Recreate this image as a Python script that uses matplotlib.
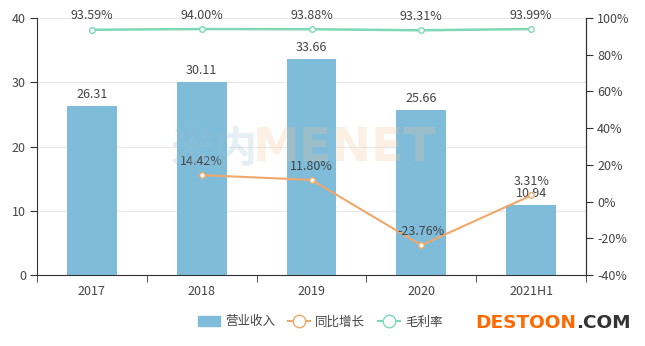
import matplotlib
matplotlib.use("Agg")
import matplotlib.pyplot as plt
from matplotlib.lines import Line2D
import numpy as np

plt.rcParams["font.family"] = ["Noto Sans CJK SC", "DejaVu Sans"]

categories = ["2017", "2018", "2019", "2020", "2021H1"]
revenue = [26.31, 30.11, 33.66, 25.66, 10.94]
growth = [None, 14.42, 11.80, -23.76, 3.31]
margin = [93.59, 94.00, 93.88, 93.31, 93.99]

BAR = "#7ebcda"
ORANGE = "#f0a86a"
GREEN = "#7ed8b6"
TXT = "#444444"

fig = plt.figure(figsize=(6.45, 3.46), dpi=100)
ax = fig.add_axes([37 / 645, 1 - 275 / 346, (586 - 37) / 645, (275 - 18) / 346])
ax2 = ax.twinx()

x = np.arange(len(categories))
ax.bar(x, revenue, width=0.455, color=BAR, zorder=2)
for xi, v in zip(x, revenue):
    ax.text(xi, v + 0.75, f"{v:.2f}", ha="center", va="bottom", fontsize=9, color=TXT, zorder=5)

ax.set_xlim(-0.5, len(categories) - 0.5)
ax.set_ylim(0, 40)
ax.set_yticks([0, 10, 20, 30, 40])
ax.set_xticks(x)
ax.set_xticklabels(categories)
ax.set_xticks(np.arange(-0.5, len(categories)), minor=True)
ax.tick_params(axis="x", which="major", length=0, pad=7, labelsize=9, labelcolor=TXT)
ax.tick_params(axis="x", which="minor", length=5, color="#333333", direction="out")
ax.tick_params(axis="y", length=5, color="#333333", labelsize=9, labelcolor=TXT, pad=3)
ax.grid(axis="y", color="#e8e8e8", linewidth=0.8, zorder=0)
ax.set_axisbelow(True)
ax.spines["top"].set_visible(False)
ax2.spines["top"].set_visible(False)
ax.spines["left"].set_color("#333333")
ax.spines["bottom"].set_color("#333333")
ax2.spines["right"].set_color("#333333")
ax2.spines["left"].set_visible(False)
ax2.spines["bottom"].set_visible(False)

ax2.set_ylim(-40, 100)
ax2.set_yticks(range(-40, 101, 20))
ax2.set_yticklabels([f"{t}%" for t in range(-40, 101, 20)])
ax2.tick_params(axis="y", length=5, color="#333333", labelsize=9, labelcolor=TXT, pad=3)

gx = [xi for xi, g in zip(x, growth) if g is not None]
gy = [g for g in growth if g is not None]
ax2.plot(gx, gy, color=ORANGE, linewidth=1.5, marker="o", markersize=4,
         markerfacecolor="white", markeredgecolor=ORANGE, markeredgewidth=1, zorder=4)
for xi, g in zip(gx, gy):
    ax2.text(xi, g + 4, f"{g:.2f}%", ha="center", va="bottom", fontsize=9, color=TXT, zorder=5)

ax2.plot(x, margin, color=GREEN, linewidth=1.8, marker="o", markersize=4,
         markerfacecolor="white", markeredgecolor=GREEN, markeredgewidth=1, zorder=4)
for xi, m in zip(x, margin):
    ax2.text(xi, m + 4, f"{m:.2f}%", ha="center", va="bottom", fontsize=9, color=TXT, zorder=5)

# watermark
fig.text(0.265, 0.57, "米内", fontsize=31, fontweight="bold", color="#9cc3d6", alpha=0.25,
         ha="left", va="center")
fig.text(0.392, 0.57, "MENET", fontsize=34, fontweight="bold", color="#f7c79a", alpha=0.25,
         ha="left", va="center", family="DejaVu Sans")

handles = [
    plt.Rectangle((0, 0), 1, 1, color=BAR),
    Line2D([], [], color=ORANGE, marker="o", markersize=9, markerfacecolor="white",
           markeredgecolor=ORANGE, linewidth=1.5),
    Line2D([], [], color=GREEN, marker="o", markersize=9, markerfacecolor="white",
           markeredgecolor=GREEN, linewidth=1.5),
]
fig.legend(handles, ["营业收入", "同比增长", "毛利率"], loc="center",
           bbox_to_anchor=(320 / 645, 1 - 322 / 346), ncol=3, frameon=False,
           fontsize=9, handlelength=1.8, handleheight=0.9, columnspacing=1.0,
           handletextpad=0.4, labelcolor=TXT)

# site mark
t1 = fig.text(475 / 645, 1 - 323 / 346, "DESTOON", fontsize=13.3, fontweight="bold",
              color="#ff6a00", ha="left", va="center", family="DejaVu Sans")
fig.canvas.draw()
bb = t1.get_window_extent()
fig.text(bb.x1 / fig.bbox.width, 1 - 323 / 346, ".COM", fontsize=13.3, fontweight="bold",
         color="#333333", ha="left", va="center", family="DejaVu Sans")

fig.savefig("out.png", dpi=100)
